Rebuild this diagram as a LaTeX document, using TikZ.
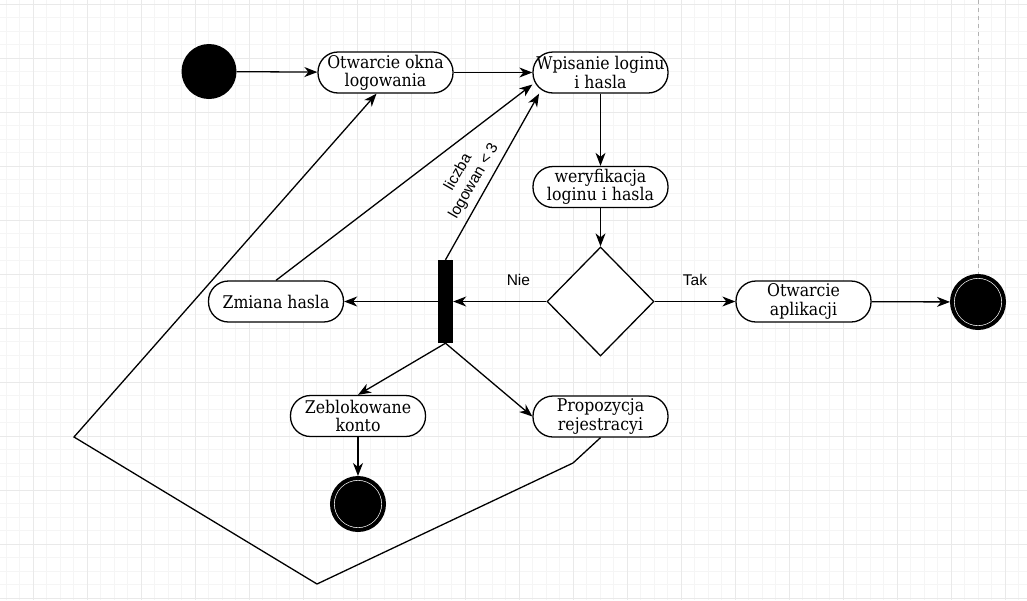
\documentclass[tikz,border=0pt]{standalone}
\usepackage{fontspec}
\setmainfont{DejaVu Serif}[FakeStretch=0.9]
\newfontfamily\labfont{Liberation Sans}
\usetikzlibrary{arrows.meta,shapes.geometric}

\def\w{135pt}
\def\h{41pt}

\begin{document}
\begin{tikzpicture}[x=1pt, y=-1pt]
			\tikzset{edge/.style={->, > = {Stealth[length=13pt,width=10pt,inset=4pt]}, line width=1.3pt}}
			\tikzset{act/.style={draw, line width=1.3pt, fill=white, rounded corners=20pt, minimum width=\w, minimum height=\h, inner sep=1pt, align=center, font=\fontsize{17.5}{18.3}\selectfont}}
			\tikzset{lab/.style={font=\labfont\fontsize{15.5}{18}\selectfont}}
			\tikzset{start/.style={circle, fill=black, minimum size=55pt, inner sep=0}}
			\tikzset{stop/.style={circle, fill=black, draw=black, line width=4pt, minimum size=52pt, inner sep=0, path picture={\draw[white, line width=1.3pt] (path picture bounding box.center) circle (24pt);}}}
			\tikzset{decision/.style={diamond, draw, line width=1.3pt, fill=white, minimum width=107pt, minimum height=109pt, inner sep=0}}
			\tikzset{bar/.style={rectangle, fill=black, minimum width=15pt, minimum height=83pt, inner sep=0}}
			\useasboundingbox (0,0) rectangle (1027,600);
			\fill[white] (0,0) rectangle (1027,600);
			% grid
			\foreach \k in {0,...,75} \draw[gray!8, line width=0.8pt] (6+13.5*\k,0) -- (6+13.5*\k,600);
			\foreach \k in {0,...,44} \draw[gray!8, line width=0.8pt] (0,4+13.5*\k) -- (1027,4+13.5*\k);
			\foreach \k in {0,...,18} \draw[gray!17, line width=0.8pt] (33+54*\k,0) -- (33+54*\k,600);
			\foreach \k in {0,...,11} \draw[gray!17, line width=0.8pt] (0,4+54*\k) -- (1027,4+54*\k);
			\node[start] (0) at (209,71.5) {};
			\node[act] (1) at (385.5,72.5) {Otwarcie okna\\logowania};
			\node[act] (2) at (600.5,72.5) {Wpisanie loginu\\i hasla};
			\node[act] (3) at (600.5,187) {weryfikacja\\loginu i hasla};
			\node[decision] (4) at (600.5,301.5) {};
			\node[bar] (5) at (445.5,301.5) {};
			\node[act] (6) at (276,301.5) {Zmiana hasla};
			\node[act] (7) at (803.5,301.5) {Otwarcie\\aplikacji};
			\node[act] (8) at (358,416) {Zeblokowane\\konto};
			\node[act] (9) at (600.5,416.5) {Propozycja\\rejestracyi};
			\node[stop] (10) at (358,504) {};
			\node[stop] (11) at (978,302) {};
			\coordinate (12) at (978,0);
			\draw[dashed, gray!60, line width=0.8pt, dash pattern=on 4pt off 4pt] (12) -- (11);
			\draw[edge] (0) -- (1);
			\draw[edge] (1) -- (2);
			\draw[edge] (2) -- (3);
			\draw[edge] (3) -- (4);
			\draw[edge] (4) -- node[pos=.3, above=12pt, lab]{Nie} (5);
			\draw[edge] (4) -- node[above=12pt, lab]{Tak} (7);
			\draw[edge] (7) -- (11);
			\draw[edge] (5) -- (6);
			\draw[edge] (6.north) -- (2.190);
			\draw[edge] (5.north) -- node[lab, xshift=-26pt, rotate=60, align=center]{liczba\\logowan < 3} (2.199);
			\draw[edge] (5.south) -- (8.north);
			\draw[edge] (5.south) -- (9.west);
			\draw[edge] (8) -- (10);
			\draw[edge] (9.south) -- (573,463) -- (317,584) -- (74,437) -- (1.247);
		\end{tikzpicture}
\end{document}
